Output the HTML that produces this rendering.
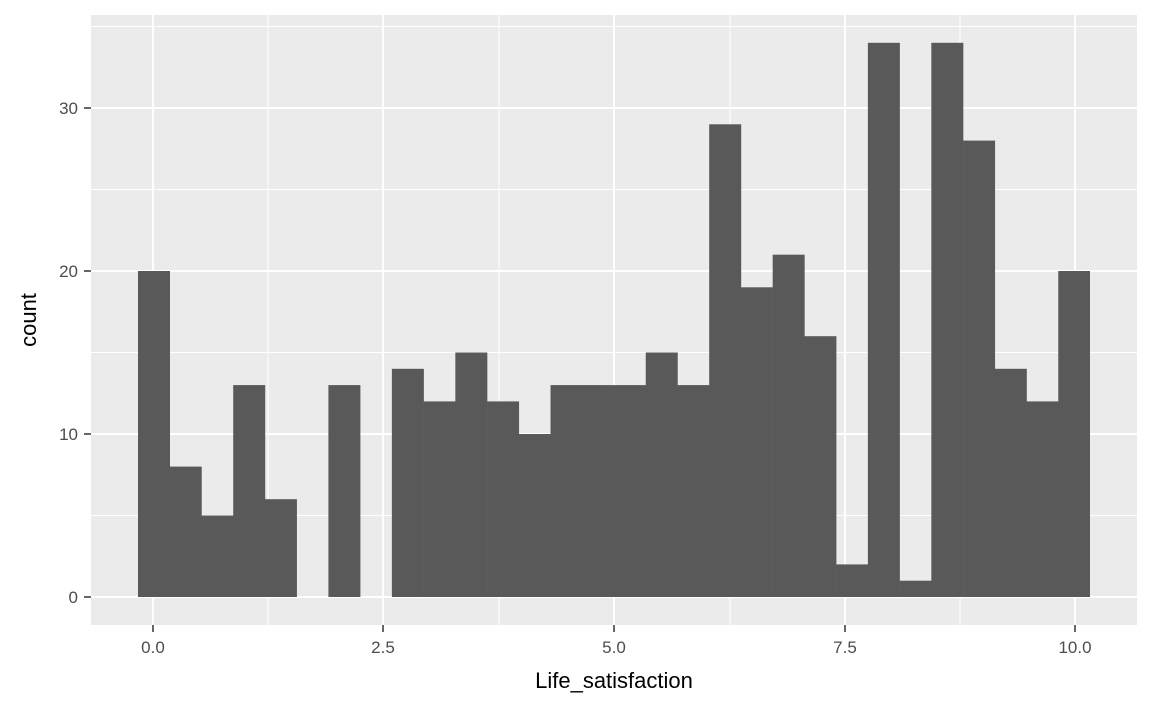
<!DOCTYPE html>
<html><head><style>body{margin:0;background:#fff}svg{display:block}text{font-family:"Liberation Sans",sans-serif}</style></head>
<body>
<svg width="1152" height="711" xmlns="http://www.w3.org/2000/svg">
<rect x="91" y="15" width="1046" height="610" fill="#EBEBEB"/>
<g stroke="#fff" stroke-width="1">
<line x1="91" x2="1137" y1="515.5" y2="515.5"/><line x1="91" x2="1137" y1="352.5" y2="352.5"/><line x1="91" x2="1137" y1="189.5" y2="189.5"/><line x1="91" x2="1137" y1="26.5" y2="26.5"/>
<line y1="15" y2="625" x1="268" x2="268"/><line y1="15" y2="625" x1="499" x2="499"/><line y1="15" y2="625" x1="730" x2="730"/><line y1="15" y2="625" x1="960" x2="960"/>
</g>
<g stroke="#fff" stroke-width="2">
<line x1="91" x2="1137" y1="597" y2="597"/><line x1="91" x2="1137" y1="434" y2="434"/><line x1="91" x2="1137" y1="271" y2="271"/><line x1="91" x2="1137" y1="108" y2="108"/>
<line y1="15" y2="625" x1="153" x2="153"/><line y1="15" y2="625" x1="383" x2="383"/><line y1="15" y2="625" x1="614" x2="614"/><line y1="15" y2="625" x1="845" x2="845"/><line y1="15" y2="625" x1="1075" x2="1075"/>
</g>
<g fill="#595959">
<rect x="138" y="271" width="32" height="326"/>
<rect x="169.73" y="466.6" width="32" height="130.4"/>
<rect x="201.47" y="515.5" width="32" height="81.5"/>
<rect x="233.2" y="385.1" width="32" height="211.9"/>
<rect x="264.93" y="499.2" width="32" height="97.8"/>
<rect x="328.4" y="385.1" width="32" height="211.9"/>
<rect x="391.87" y="368.8" width="32" height="228.2"/>
<rect x="423.6" y="401.4" width="32" height="195.6"/>
<rect x="455.33" y="352.5" width="32" height="244.5"/>
<rect x="487.07" y="401.4" width="32" height="195.6"/>
<rect x="518.8" y="434" width="32" height="163"/>
<rect x="550.53" y="385.1" width="32" height="211.9"/>
<rect x="582.27" y="385.1" width="32" height="211.9"/>
<rect x="614" y="385.1" width="32" height="211.9"/>
<rect x="645.73" y="352.5" width="32" height="244.5"/>
<rect x="677.47" y="385.1" width="32" height="211.9"/>
<rect x="709.2" y="124.3" width="32" height="472.7"/>
<rect x="740.93" y="287.3" width="32" height="309.7"/>
<rect x="772.67" y="254.7" width="32" height="342.3"/>
<rect x="804.4" y="336.2" width="32" height="260.8"/>
<rect x="836.13" y="564.4" width="32" height="32.6"/>
<rect x="867.87" y="42.8" width="32" height="554.2"/>
<rect x="899.6" y="580.7" width="32" height="16.3"/>
<rect x="931.33" y="42.8" width="32" height="554.2"/>
<rect x="963.07" y="140.6" width="32" height="456.4"/>
<rect x="994.8" y="368.8" width="32" height="228.2"/>
<rect x="1026.53" y="401.4" width="32" height="195.6"/>
<rect x="1058.27" y="271" width="31.73" height="326"/>
</g>
<g fill="#4D4D4D" font-size="17" text-anchor="end">
<text x="78" y="603">0</text><text x="78" y="440">10</text><text x="78" y="277">20</text><text x="78" y="114">30</text>
</g>
<g stroke="#333" stroke-width="1.5">
<line x1="84" x2="91" y1="597" y2="597"/><line x1="84" x2="91" y1="434" y2="434"/><line x1="84" x2="91" y1="271" y2="271"/><line x1="84" x2="91" y1="108" y2="108"/>
<line y1="625" y2="632" x1="153" x2="153"/><line y1="625" y2="632" x1="383" x2="383"/><line y1="625" y2="632" x1="614" x2="614"/><line y1="625" y2="632" x1="845" x2="845"/><line y1="625" y2="632" x1="1075" x2="1075"/>
</g>
<g fill="#4D4D4D" font-size="17" text-anchor="middle">
<text x="153" y="653">0.0</text><text x="383" y="653">2.5</text><text x="614" y="653">5.0</text><text x="845" y="653">7.5</text><text x="1075" y="653">10.0</text>
</g>
<text x="614" y="688" font-size="22" text-anchor="middle" fill="#000">Life_satisfaction</text>
<text transform="translate(36,320) rotate(-90)" font-size="22" text-anchor="middle" fill="#000">count</text>
</svg>
</body></html>
